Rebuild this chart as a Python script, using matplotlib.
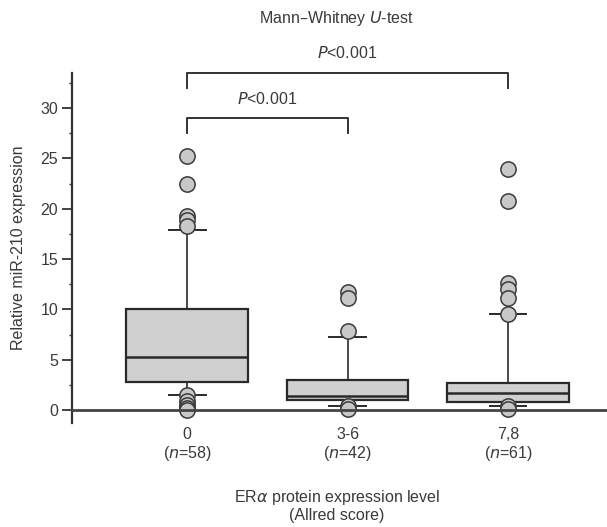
import matplotlib.pyplot as plt
from matplotlib.ticker import MultipleLocator

plt.rcParams['font.family'] = ['Liberation Sans', 'DejaVu Sans']
txt = '#3a3a3a'
fs = 11.5

groups = ['0', '3-6', '7,8']
n_vals = [58, 42, 61]

# box statistics
q1 = [2.8, 1.0, 0.8]
med = [5.3, 1.4, 1.7]
q3 = [10.0, 3.0, 2.7]
wlo = [1.5, 0.4, 0.4]
whi = [17.9, 7.3, 9.5]
fliers = [
    [25.2, 22.5, 19.3, 18.9, 18.3, 1.5, 0.9, 0.5, 0.2, 0.0],
    [11.7, 11.1, 7.8, 0.4, 0.1],
    [24.0, 20.8, 12.6, 12.0, 11.1, 9.5, 0.4, 0.1],
]

fig = plt.figure(figsize=(6.07, 5.27), dpi=100)
ax = fig.add_axes([0.1186, 0.1973, 0.8814, 0.6642])

stats = []
for i in range(3):
    stats.append(dict(q1=q1[i], med=med[i], q3=q3[i], whislo=wlo[i],
                      whishi=whi[i], fliers=fliers[i], label=groups[i]))

ax.bxp(stats, positions=[1, 2, 3], widths=0.76, capwidths=0.23,
       patch_artist=True, showfliers=True,
       boxprops=dict(facecolor='#d0d0d0', edgecolor='#2a2a2a', linewidth=1.6),
       medianprops=dict(color='#2a2a2a', linewidth=1.8),
       whiskerprops=dict(color='#2a2a2a', linewidth=1.2),
       capprops=dict(color='#2a2a2a', linewidth=1.4),
       flierprops=dict(marker='o', markersize=11, markerfacecolor='#c8c8c8',
                       markeredgecolor='#3a3a3a', markeredgewidth=1.1))

ax.set_xlim(0.283, 3.617)
ax.set_ylim(-1.3, 33.5)

ax.spines['top'].set_visible(False)
ax.spines['right'].set_visible(False)
ax.spines['bottom'].set_position(('data', 0))
ax.spines['bottom'].set_color('#444444')
ax.spines['bottom'].set_linewidth(2)
ax.spines['left'].set_color('#333333')
ax.spines['left'].set_linewidth(1.6)

ax.set_yticks([0, 5, 10, 15, 20, 25, 30])
ax.yaxis.set_minor_locator(MultipleLocator(2.5))
ax.tick_params(axis='y', which='major', length=7, width=1.3, colors='#333333',
               labelsize=fs, labelcolor=txt, pad=3)
ax.tick_params(axis='y', which='minor', length=2, width=1, colors='#333333')

ax.set_xticks([1, 2, 3])
ax.set_xticklabels([g + '\n($\\it{n}$=' + str(n) + ')' for g, n in zip(groups, n_vals)],
                   linespacing=1.15)
ax.tick_params(axis='x', length=0, labelsize=fs, labelcolor=txt, pad=12)

ax.set_ylabel('Relative miR-210 expression', fontsize=fs, color=txt, labelpad=10)
fig.text(0.555, 0.008, 'ER$\\alpha$ protein expression level\n(Allred score)',
         ha='center', va='bottom', fontsize=fs, color=txt, linespacing=1.1)

# significance brackets
ax.plot([1, 1, 3, 3], [32.0, 33.5, 33.5, 32.0], color='#333333', lw=1.4, clip_on=False)
ax.plot([1, 1, 2, 2], [27.5, 29.0, 29.0, 27.5], color='#333333', lw=1.4, clip_on=False)
ax.text(2.0, 34.7, '$\\it{P}$<0.001', ha='center', va='bottom', fontsize=fs, color=txt)
ax.text(1.5, 30.1, '$\\it{P}$<0.001', ha='center', va='bottom', fontsize=fs, color=txt)
fig.text(0.555, 0.965, 'Mann\u2013Whitney $\\it{U}$-test', ha='center', va='center',
         fontsize=fs, color=txt)

fig.savefig('out.png', dpi=100)
